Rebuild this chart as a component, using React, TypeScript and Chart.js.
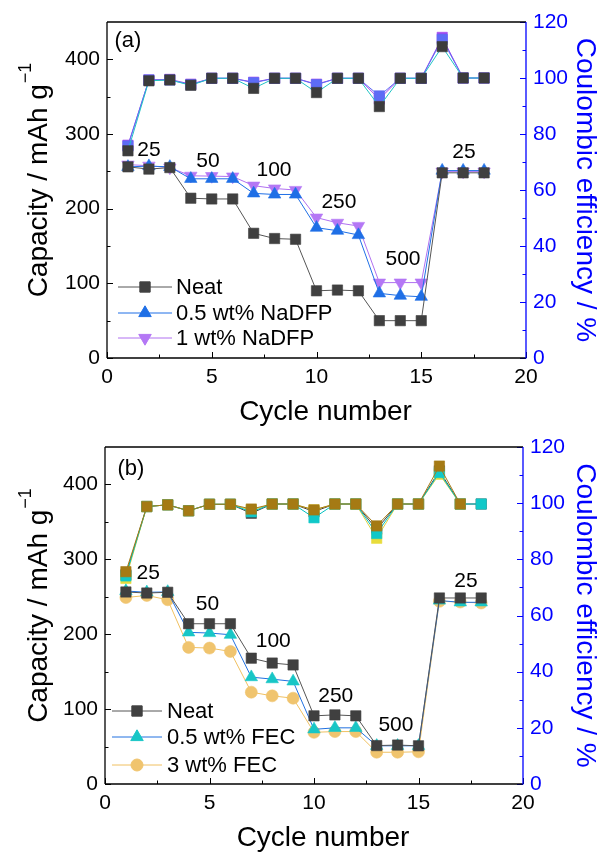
import React, { useEffect, useRef } from 'react';
import { Chart, registerables } from 'chart.js';
import { drawPoint } from 'chart.js/helpers';

Chart.register(...registerables);

const FONT = "'Liberation Sans', Arial, Helvetica, sans-serif";
const BLUE = '#0000ff';

// ---------- shared axis data ----------
const cycles = [1, 2, 3, 4, 5, 6, 7, 8, 9, 10, 11, 12, 13, 14, 15, 16, 17, 18];
const xTicks = [0, 5, 10, 15, 20];
const capTicks = [0, 100, 200, 300, 400];
const ceTicks = [0, 20, 40, 60, 80, 100, 120];

// ---------- panel (a) ----------
const capNeatA = [256, 253, 255, 214, 213, 213, 167, 160, 159, 90, 91, 90, 50, 50, 50, 248, 248, 248];
const capNaDFP05 = [256, 257, 256, 240, 240, 240, 220.5, 219, 219, 174.5, 170.5, 164.7, 86.6, 83.5, 82, 251, 251, 251];
const capNaDFP1 = [259, 257.5, 255, 244, 243.6, 243, 230.8, 227, 225, 188, 181, 176.8, 100.9, 101, 101, 249.6, 249.6, 249.6];
const ceNeatA = [74.0, 99.0, 99.3, 97.4, 99.9, 99.9, 96.3, 99.9, 99.9, 94.8, 99.9, 99.9, 89.8, 99.9, 99.9, 111.2, 100, 100];
const ceNaDFP05 = [75.7, 99.3, 99.3, 97.6, 99.9, 99.9, 98.3, 99.9, 99.9, 97.6, 99.9, 99.9, 93.6, 99.9, 99.9, 113.8, 100, 100];
const ceNaDFP1 = [76.0, 99.3, 99.5, 97.8, 99.9, 99.9, 98.5, 99.9, 99.9, 97.8, 99.9, 99.9, 92.5, 99.9, 99.9, 114.5, 100, 100];
const notesA = ['(a)', '25', '50', '100', '250', '500', '25'];
const noteXA = [1.0, 2.0, 4.82, 7.97, 11.07, 14.13, 17.04];
const noteYA = [424, 278.6, 264, 252, 209, 132, 275];
const legendA = ['Neat', '0.5 wt% NaDFP', '1 wt% NaDFP'];

// ---------- panel (b) ----------
const capNeatB = [256.4, 255, 256, 214, 214, 214, 168, 161.5, 159, 91, 92.3, 91, 51.3, 52, 51, 248.4, 248.4, 248.4];
const capFEC05 = [257.7, 256, 256.5, 202.5, 201.6, 199.3, 142.7, 140, 137, 73, 75, 75, 51, 51, 51, 245, 242.6, 242.6];
const capFEC3 = [249, 251.8, 246, 182.4, 181.5, 177, 122.6, 117.7, 114.6, 69, 70, 70, 42.4, 42.4, 43, 244, 243, 241.7];
const ceNeatB = [74.5, 98.8, 99.4, 97.3, 99.6, 99.6, 96.4, 99.7, 99.7, 97.0, 99.7, 99.7, 90.7, 99.7, 99.7, 111.5, 99.7, 99.7];
const ceFEC05 = [74.1, 98.8, 99.4, 97.3, 99.6, 99.6, 96.9, 99.7, 99.7, 94.8, 99.7, 99.7, 89.2, 99.7, 99.7, 110.9, 99.7, 99.7];
const ceFEC3 = [73.2, 98.8, 99.4, 97.3, 99.6, 99.6, 97.5, 99.7, 99.7, 97.6, 99.7, 99.7, 87.5, 99.7, 99.7, 110.3, 99.7];
const ceFEC3b = [75.6, 98.8, 99.4, 97.3, 99.6, 99.6, 97.9, 99.7, 99.7, 97.6, 99.7, 99.7, 91.9, 99.7, 99.7, 113.2, 99.7];
const notesB = ['(b)', '25', '50', '100', '250', '500', '25'];
const noteXB = [1.24, 2.07, 4.9, 8.05, 11.04, 13.92, 17.27];
const noteYB = [421, 282, 239.5, 191, 117.7, 78, 270.6];
const legendB = ['Neat', '0.5 wt% FEC', '3 wt% FEC'];

type Sty = { line: string; fill: string; shape: string; r: number; rot?: number };

const S = {
  neat: { line: '#555555', fill: '#404040', shape: 'rect', r: 7.3 },
  na05: { line: '#1f6fe6', fill: '#1f6fe6', shape: 'triangle', r: 7.2 },
  na1: { line: '#b070f0', fill: '#b477f5', shape: 'triangle', r: 7.2, rot: 180 },
  ceNeatA: { line: '#20c4c4', fill: '#3c3c3c', shape: 'rect', r: 7.3 },
  ce05A: { line: '#5d6cf5', fill: '#5d6cf5', shape: 'rect', r: 7.3 },
  ce1A: { line: '#a040ec', fill: '#a448f0', shape: 'rect', r: 7.3 },
  fec05: { line: '#2070e0', fill: '#18c6c6', shape: 'triangle', r: 7.2 },
  fec3: { line: '#f0c060', fill: '#f0c46e', shape: 'circle', r: 6 },
  ceNeatB: { line: '#404040', fill: '#404040', shape: 'rect', r: 7.3 },
  ceFEC05: { line: '#00c0c0', fill: '#10c8c8', shape: 'rect', r: 7.3 },
  ceFEC3: { line: '#e0d040', fill: '#e8dc3c', shape: 'rect', r: 7.3 },
  ceFEC3b: { line: '#a57a14', fill: '#a57a14', shape: 'rect', r: 7.3 },
} as Record<string, Sty>;

function series(values: number[], axis: string, st: Sty, order: number) {
  return {
    data: values.map((v, i) => ({ x: cycles[i], y: v })),
    yAxisID: axis,
    borderColor: st.line,
    backgroundColor: st.fill,
    borderWidth: 1,
    pointStyle: st.shape,
    pointRotation: st.rot || 0,
    pointRadius: st.r,
    pointBackgroundColor: st.fill,
    pointBorderColor: st.fill,
    pointBorderWidth: 0.6,
    tension: 0,
    order,
  };
}

type PanelCfg = {
  padTop: number; xH: number; leftW: number; rightW: number;
  datasets: any[];
  notes: string[]; noteX: number[]; noteY: number[];
  legend: string[]; legendSty: Sty[];
  lg: { x0: number; x1: number; tx: number; rows: number[] };
};

const panelA: PanelCfg = {
  padTop: 22, xH: 69, leftW: 107, rightW: 77,
  datasets: [
    series(capNeatA, 'y', S.neat, 1),
    series(capNaDFP05, 'y', S.na05, 2),
    series(capNaDFP1, 'y', S.na1, 3),
    series(ceNeatA, 'y1', S.ceNeatA, 4),
    series(ceNaDFP05, 'y1', S.ce05A, 5),
    series(ceNaDFP1, 'y1', S.ce1A, 6),
  ],
  notes: notesA, noteX: noteXA, noteY: noteYA,
  legend: legendA, legendSty: [S.neat, S.na05, S.na1],
  lg: { x0: 11, x1: 65, tx: 69, rows: [71, 45, 20] },
};

const panelB: PanelCfg = {
  padTop: 20, xH: 70, leftW: 105, rightW: 80,
  datasets: [
    series(capNeatB, 'y', S.neat, 1),
    series(capFEC05, 'y', S.fec05, 2),
    series(capFEC3, 'y', S.fec3, 3),
    series(ceFEC3b, 'y1', S.ceFEC3b, 4),
    series(ceFEC05, 'y1', S.ceFEC05, 5),
    series(ceFEC3, 'y1', S.ceFEC3, 6),
    series(ceNeatB, 'y1', S.ceNeatB, 7),
  ],
  notes: notesB, noteX: noteXB, noteY: noteYB,
  legend: legendB, legendSty: [S.neat, S.fec05, S.fec3],
  lg: { x0: 7, x1: 57, tx: 62, rows: [73, 47, 19] },
};

function mids(t: number[]) {
  const out: number[] = [];
  for (let i = 0; i < t.length - 1; i++) out.push((t[i] + t[i + 1]) / 2);
  return out;
}

function decorPlugin(p: PanelCfg) {
  return {
    id: 'decor',
    afterDraw(chart: any) {
      const { ctx, chartArea: a, scales } = chart;
      const sx = scales.x, sy = scales.y, sy1 = scales.y1;
      ctx.save();
      ctx.lineWidth = 1;
      const seg = (x1: number, y1: number, x2: number, y2: number) => {
        ctx.beginPath(); ctx.moveTo(x1, y1); ctx.lineTo(x2, y2); ctx.stroke();
      };
      // ticks
      ctx.strokeStyle = '#000';
      xTicks.forEach(v => { const px = Math.round(sx.getPixelForValue(v)) + 0.5; seg(px, a.bottom, px, a.bottom - 6); });
      mids(xTicks).forEach(v => { const px = Math.round(sx.getPixelForValue(v)) + 0.5; seg(px, a.bottom, px, a.bottom - 3.5); });
      capTicks.forEach(v => { const py = Math.round(sy.getPixelForValue(v)) + 0.5; seg(a.left, py, a.left + 6, py); });
      mids(capTicks).forEach(v => { const py = Math.round(sy.getPixelForValue(v)) + 0.5; seg(a.left, py, a.left + 3.5, py); });
      ctx.strokeStyle = BLUE;
      ceTicks.forEach(v => { const py = Math.round(sy1.getPixelForValue(v)) + 0.5; seg(a.right, py, a.right - 6, py); });
      mids(ceTicks).forEach(v => { const py = Math.round(sy1.getPixelForValue(v)) + 0.5; seg(a.right, py, a.right - 3.5, py); });
      // frame
      ctx.lineWidth = 1.3;
      ctx.strokeStyle = '#000';
      seg(a.left, a.top, a.right, a.top);
      seg(a.left, a.bottom, a.right, a.bottom);
      seg(a.left, a.top, a.left, a.bottom);
      ctx.strokeStyle = BLUE;
      seg(a.right, a.top, a.right, a.bottom + 0.6);

      // annotations
      ctx.fillStyle = '#000';
      ctx.textAlign = 'center';
      ctx.textBaseline = 'middle';
      p.notes.forEach((t, i) => {
        ctx.font = `${i === 0 ? 22 : 21}px ${FONT}`;
        ctx.fillText(t, sx.getPixelForValue(p.noteX[i]), sy.getPixelForValue(p.noteY[i]));
      });

      // legend
      ctx.textAlign = 'left';
      ctx.font = `22px ${FONT}`;
      p.legend.forEach((t, i) => {
        const st = p.legendSty[i];
        const y = a.bottom - p.lg.rows[i];
        ctx.strokeStyle = st.line; ctx.lineWidth = 1;
        seg(a.left + p.lg.x0, y, a.left + p.lg.x1, y);
        ctx.fillStyle = st.fill; ctx.strokeStyle = st.fill;
        drawPoint(ctx, { pointStyle: st.shape, radius: st.r, rotation: st.rot || 0, borderWidth: 0.6 } as any,
          a.left + (p.lg.x0 + p.lg.x1) / 2, y);
        ctx.fillStyle = '#000';
        ctx.fillText(t, a.left + p.lg.tx, y + 1);
      });

      // left axis title with superscript
      const main = 'Capacity / mAh g';
      const sup = '\u22121';
      ctx.font = `28px ${FONT}`;
      const wMain = ctx.measureText(main).width;
      ctx.font = `18px ${FONT}`;
      const wSup = ctx.measureText(sup).width;
      const total = wMain + wSup + 1;
      const cy = (a.top + a.bottom) / 2 - 10;
      ctx.save();
      ctx.translate(47, cy + total / 2);
      ctx.rotate(-Math.PI / 2);
      ctx.textBaseline = 'alphabetic';
      ctx.textAlign = 'left';
      ctx.fillStyle = '#000';
      ctx.font = `28px ${FONT}`;
      ctx.fillText(main, 0, 0);
      ctx.font = `18px ${FONT}`;
      ctx.fillText(sup, wMain + 1, -16);
      ctx.restore();

      // right axis title
      const rt = 'Coulombic efficiency / %';
      ctx.font = `28px ${FONT}`;
      const wr = ctx.measureText(rt).width;
      ctx.save();
      ctx.translate(577, (a.top + a.bottom) / 2 - wr / 2);
      ctx.rotate(Math.PI / 2);
      ctx.textBaseline = 'alphabetic';
      ctx.textAlign = 'left';
      ctx.fillStyle = BLUE;
      ctx.fillText(rt, 0, 0);
      ctx.restore();

      // x axis title
      ctx.font = `28px ${FONT}`;
      ctx.textAlign = 'center';
      ctx.textBaseline = 'alphabetic';
      ctx.fillStyle = '#000';
      ctx.fillText('Cycle number', (a.left + a.right) / 2 + 9, a.bottom + 62);
      ctx.restore();
    },
  };
}

function buildConfig(p: PanelCfg): any {
  const tickFont = { size: 21, family: FONT };
  return {
    type: 'line',
    data: { datasets: p.datasets },
    plugins: [decorPlugin(p)],
    options: {
      responsive: false,
      animation: false,
      events: [],
      layout: { padding: { top: p.padTop, left: 0, right: 0, bottom: 0 } },
      plugins: { legend: { display: false }, tooltip: { enabled: false } },
      scales: {
        x: {
          type: 'linear', position: 'bottom', min: 0, max: 20,
          afterBuildTicks: (s: any) => { s.ticks = xTicks.map(v => ({ value: v })); },
          afterFit: (s: any) => { s.height = p.xH; },
          grid: { display: false, drawTicks: false },
          border: { display: false },
          ticks: { font: tickFont, color: '#000', padding: 7, maxRotation: 0, autoSkip: false },
        },
        y: {
          type: 'linear', position: 'left', min: 0, max: 450,
          afterBuildTicks: (s: any) => { s.ticks = capTicks.map(v => ({ value: v })); },
          afterFit: (s: any) => { s.width = p.leftW; },
          grid: { display: false, drawTicks: false },
          border: { display: false },
          ticks: { font: tickFont, color: '#000', padding: 7 },
        },
        y1: {
          type: 'linear', position: 'right', min: 0, max: 120,
          afterBuildTicks: (s: any) => { s.ticks = ceTicks.map(v => ({ value: v })); },
          afterFit: (s: any) => { s.width = p.rightW; },
          grid: { display: false, drawTicks: false },
          border: { display: false },
          ticks: { font: tickFont, color: BLUE, padding: 7 },
        },
      },
    },
  };
}

function Panel({ cfg, top }: { cfg: PanelCfg; top: number }) {
  const ref = useRef<HTMLCanvasElement>(null);
  useEffect(() => {
    const chart = new Chart(ref.current as HTMLCanvasElement, buildConfig(cfg));
    return () => chart.destroy();
  }, [cfg]);
  return (
    <div style={{ position: 'absolute', left: 0, top, width: 603, height: 427 }}>
      <canvas ref={ref} width={603} height={427} style={{ width: 603, height: 427, display: 'block' }} />
    </div>
  );
}

export default function App() {
  return (
    <div style={{ position: 'absolute', left: 0, top: 0, width: 603, height: 854, background: '#fff' }}>
      <Panel cfg={panelA} top={0} />
      <Panel cfg={panelB} top={427} />
    </div>
  );
}
